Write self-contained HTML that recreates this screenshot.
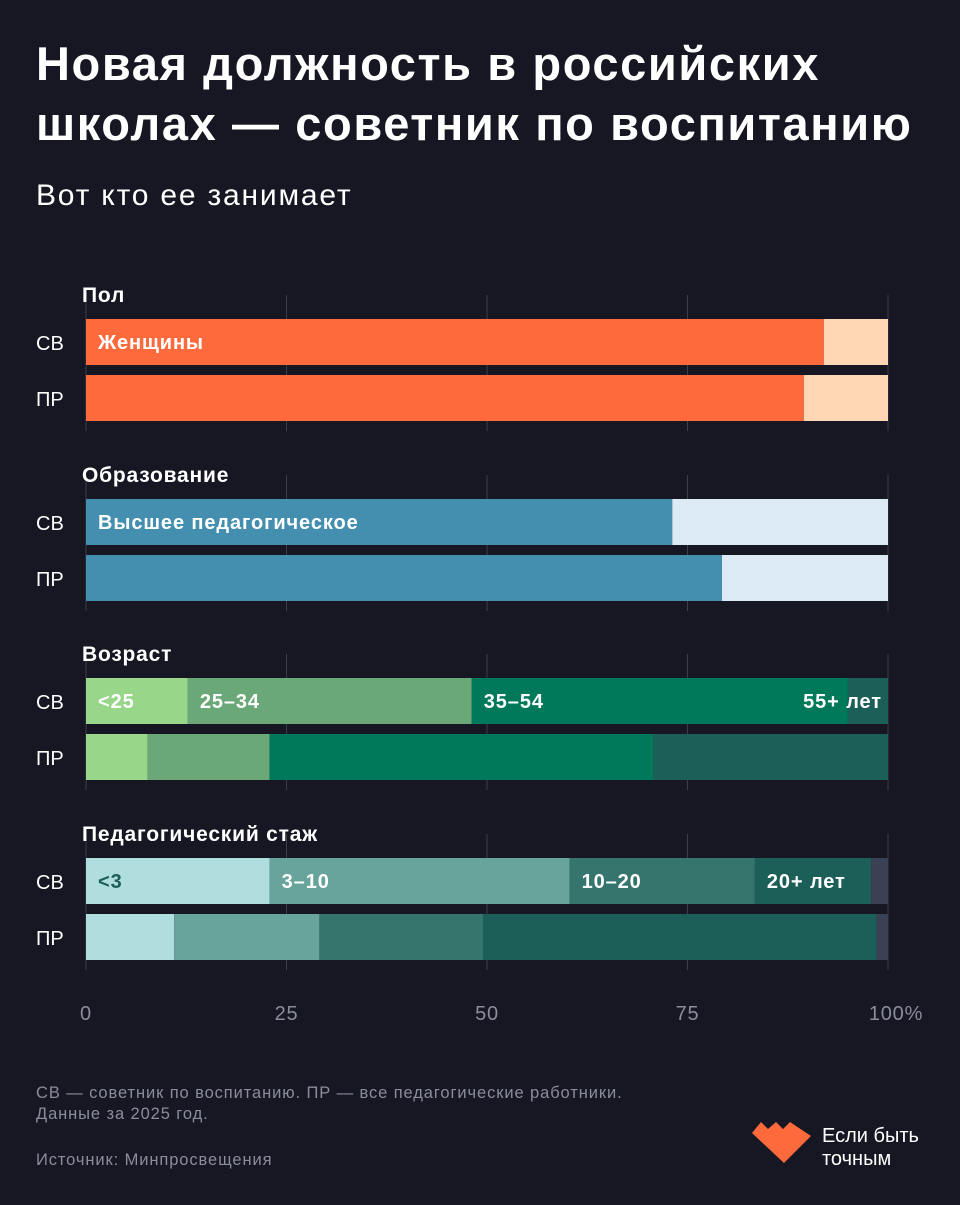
<!DOCTYPE html>
<html><head><meta charset="utf-8">
<style>
body{margin:0;background:#161722;width:960px;height:1200px;overflow:hidden;font-family:"Liberation Sans","DejaVu Sans",sans-serif;color:#fff}
svg text{font-family:"Liberation Sans","DejaVu Sans",sans-serif}
</style></head><body>
<svg width="960" height="1200" xmlns="http://www.w3.org/2000/svg">
<text x="36" y="80" font-size="47" font-weight="bold" letter-spacing="1.6" fill="#fff">Новая должность в российских</text>
<text x="36" y="140" font-size="47" font-weight="bold" letter-spacing="1.6" fill="#fff">школах — советник по воспитанию</text>
<text x="36" y="205" font-size="30" letter-spacing="1.8" fill="#fff">Вот кто ее занимает</text>
<g id="grid"></g>
<g id="bars"></g>
<g id="axis"></g>
<text x="36" y="1098" font-size="16.5" letter-spacing="0.9" fill="#8a8d9c">СВ — советник по воспитанию. ПР — все педагогические работники.</text>
<text x="36" y="1119" font-size="16.5" letter-spacing="0.9" fill="#8a8d9c">Данные за 2025 год.</text>
<text x="36" y="1165" font-size="16.5" letter-spacing="0.9" fill="#8a8d9c">Источник: Минпросвещения</text>
<polygon points="752,1133 761,1122 768,1129 776,1122 783,1129 790,1122 811,1136 784,1163" fill="#ff6a3d"/>
<text x="822" y="1142" font-size="20" fill="#fff">Если быть</text>
<text x="822" y="1165" font-size="20" fill="#fff">точным</text>
</svg>
<script>
const sections = ["Пол","Образование","Возраст","Педагогический стаж"];
const rowLabels = ["СВ","ПР"];
const genderSV = [92, 8];
const genderPR = [89.5, 10.5];
const eduSV = [73.1, 26.9];
const eduPR = [79.3, 20.7];
const ageSV = [12.7, 35.4, 46.9, 5.0];
const agePR = [7.7, 15.2, 47.8, 29.3];
const expSV = [22.9, 37.4, 23.1, 14.5, 2.1];
const expPR = [11.0, 18.1, 20.4, 49.1, 1.4];
const genderCats = ["Женщины", ""];
const eduCats = ["Высшее педагогическое", ""];
const ageCats = ["<25","25–34","35–54","55+ лет"];
const expCats = ["<3","3–10","10–20","20+ лет",""];
const ticks = [0,25,50,75,100];
const tickLabels = ["0","25","50","75","100%"];

const NS="http://www.w3.org/2000/svg";
const x0=86,x1=888;
const xs=v=>x0+(x1-x0)*v/100;
function el(tag,attrs,parent){const e=document.createElementNS(NS,tag);for(const k in attrs)e.setAttribute(k,attrs[k]);parent.appendChild(e);return e;}
const gridG=document.getElementById('grid'),barsG=document.getElementById('bars'),axisG=document.getElementById('axis');
const secTops=[319,499,678,858];
const data=[[genderSV,genderPR],[eduSV,eduPR],[ageSV,agePR],[expSV,expPR]];
const cats=[genderCats,eduCats,ageCats,expCats];
const colors=[["#ff6a3d","#ffd6b3"],["#448fb0","#dbeaf5"],["#98d68a","#6aa877","#00785a","#1c5e58"],["#b0dede","#68a39c","#35756d","#1c5e58","#3b4154"]];
const labelColors=[["#fff"],["#fff"],["#fff","#fff","#fff","#fff"],["#1c5e58","#fff","#fff","#fff"]];
sections.forEach((s,si)=>{
  const top=secTops[si];
  ticks.forEach((t,ti)=>{
    const l=el('line',{x1:xs(t),x2:xs(t),y1:top-24,y2:top+112,stroke:"#3a3d4a","stroke-width":1},gridG);
    
    
  });
  const h=el('text',{x:82,y:top-17,"font-size":21,"font-weight":"bold","letter-spacing":0.8,fill:"#fff"},barsG);h.textContent=s;
  
  
  data[si].forEach((vals,ri)=>{
    const y=top+ri*56;
    const rl=el('text',{x:36,y:y+31,"font-size":20,fill:"#fff"},barsG);rl.textContent=rowLabels[ri];
    
    
    let acc=0;
    vals.forEach((v,vi)=>{
      const r=el('rect',{x:xs(acc),y:y,width:xs(acc+v)-xs(acc),height:46,fill:colors[si][vi]},barsG);
      
      
      if(ri===0&&cats[si][vi]){
        let tx=xs(acc)+12, anchor='start';
        if(si===2&&vi===3){tx=x1-6;anchor='end';}
        const t=el('text',{x:tx,y:y+30,"font-size":20,"font-weight":"bold","letter-spacing":0.9,fill:labelColors[si][vi]||"#fff","text-anchor":anchor},barsG);
        t.textContent=cats[si][vi];
        
        
      }
      acc+=v;
    });
  });
});
ticks.forEach((t,ti)=>{
  const tx=el('text',{x:xs(t)+(ti===4?8:0),y:1020,"font-size":20,"letter-spacing":0.8,fill:"#8a8d9c","text-anchor":"middle"},axisG);
  tx.textContent=tickLabels[ti];
  
  
});
</script>
</body></html>
